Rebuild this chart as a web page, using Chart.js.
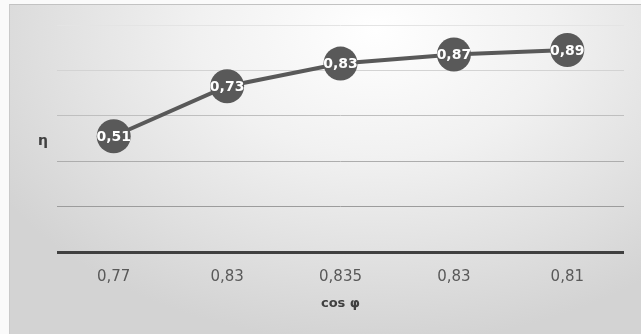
<!DOCTYPE html>
<html lang="ru">
<head>
<meta charset="UTF-8">
<title>η от cos φ</title>
<script src="https://cdn.jsdelivr.net/npm/chart.js"></script>
<style>
    html, body { margin: 0; padding: 0; background: #fafafa; }
    .frame {
        position: absolute; left: 9px; top: 4px; width: 632px; height: 330px;
        box-sizing: border-box;
        border-top: 1px solid #c2c2c2; border-left: 1px solid #cacaca;
        background: radial-gradient(ellipse 70% 95% at 58% 8%, #ffffff 0%, #f1f1f1 40%, #d3d3d3 100%);
    }
    #chart { position: absolute; left: 0; top: 0; }
</style>
</head>
<body>
<div class="frame"></div>
<canvas id="chart" width="641" height="334"></canvas>

<script>
    // данные с графика
    const cosPhi = ['0,77', '0,83', '0,835', '0,83', '0,81'];
    const eta = [0.51, 0.73, 0.83, 0.87, 0.89];
    const gridColors = ['#404040', '#9c9c9c', '#adadad', '#bfbfbf', '#d3d3d3', '#e4e4e4'];

    // подписи значений внутри кружков
    const valueLabels = {
        id: 'valueLabels',
        afterDatasetsDraw(chart) {
            const ctx = chart.ctx;
            const meta = chart.getDatasetMeta(0);
            ctx.save();
            ctx.font = 'bold 14px "DejaVu Sans"';
            ctx.fillStyle = '#ffffff';
            ctx.textAlign = 'center';
            ctx.textBaseline = 'middle';
            meta.data.forEach((pt, i) => {
                ctx.fillText(String(eta[i]).replace('.', ','), pt.x, pt.y + 1);
            });
            ctx.restore();
        }
    };

    // подпись оси Y (не поворачиваем)
    const yTitle = {
        id: 'yTitle',
        afterDraw(chart) {
            const a = chart.chartArea;
            const ctx = chart.ctx;
            ctx.save();
            ctx.font = 'bold 14px "DejaVu Sans"';
            ctx.fillStyle = '#404040';
            ctx.textAlign = 'center';
            ctx.textBaseline = 'middle';
            ctx.fillText('η', a.left - 14, (a.top + a.bottom) / 2 + 3);
            ctx.restore();
        }
    };

    new Chart(document.getElementById('chart'), {
        type: 'line',
        data: {
            labels: cosPhi,
            datasets: [{
                data: eta,
                borderColor: '#595959',
                borderWidth: 4,
                backgroundColor: '#595959',
                pointBackgroundColor: '#595959',
                pointBorderWidth: 0,
                pointRadius: 17,
                pointHoverRadius: 17,
                tension: 0
            }]
        },
        options: {
            responsive: false,
            animation: false,
            layout: { padding: { left: 0, top: 25, right: 11, bottom: 0 } },
            plugins: { legend: { display: false }, tooltip: { enabled: false } },
            scales: {
                x: {
                    offset: true,
                    grid: { display: false },
                    border: { display: false },
                    ticks: { color: '#595959', font: { family: 'DejaVu Sans', size: 15 }, padding: 8 },
                    title: {
                        display: true, text: 'cos φ', color: '#404040',
                        font: { family: 'DejaVu Sans', size: 13, weight: 'bold' },
                        padding: { top: 4, bottom: 23 }
                    },
                    afterFit(scale) { scale.height = 82; }
                },
                y: {
                    min: 0, max: 1,
                    ticks: { stepSize: 0.2, display: false },
                    border: { display: false },
                    grid: {
                        drawTicks: false,
                        color: c => gridColors[c.index],
                        lineWidth: c => c.index === 0 ? 3 : 1
                    },
                    afterFit(scale) { scale.width = 57; }
                }
            }
        },
        plugins: [valueLabels, yTitle]
    });
</script>
</body>
</html>
